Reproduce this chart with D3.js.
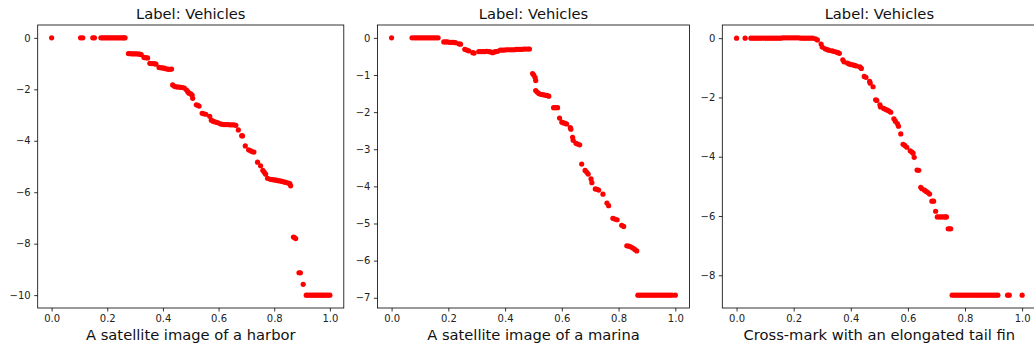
<!DOCTYPE html>
<html>
<head>
<meta charset="utf-8">
<script src="https://cdn.jsdelivr.net/npm/d3@7"></script>
<style>
  body { margin: 0; background: #fff; }
  svg { display: block; font-family: "DejaVu Sans", sans-serif; }
</style>
</head>
<body>
<svg id="chart" width="1034" height="350"></svg>
<script>
// values, [x, y] per dot
const harborPoints = [
  [0, 0], [0.104, 0], [0.112, 0], [0.148, 0], [0.154, 0],
  [0.177, 0], [0.183, 0], [0.189, 0], [0.195, 0], [0.201, 0], [0.207, 0], [0.213, 0], [0.219, 0],
  [0.225, 0], [0.231, 0], [0.237, 0], [0.243, 0], [0.249, 0], [0.255, 0], [0.260, 0], [0.264, 0],
  [0.276, -0.61], [0.282, -0.61], [0.288, -0.62], [0.294, -0.62], [0.300, -0.62], [0.306, -0.62],
  [0.312, -0.63], [0.317, -0.63], [0.322, -0.65],
  [0.332, -0.76], [0.338, -0.77], [0.345, -0.78],
  [0.353, -0.99], [0.359, -1.0], [0.365, -1.0], [0.371, -1.01], [0.375, -1.02],
  [0.386, -1.15], [0.392, -1.16], [0.398, -1.17], [0.405, -1.18],
  [0.410, -1.20], [0.416, -1.21], [0.421, -1.22], [0.426, -1.22], [0.431, -1.21],
  [0.435, -1.83], [0.441, -1.88], [0.447, -1.90], [0.452, -1.91], [0.458, -1.91], [0.464, -1.92],
  [0.470, -1.93], [0.477, -1.95],
  [0.485, -2.03], [0.490, -2.10], [0.494, -2.15], [0.500, -2.18], [0.505, -2.22], [0.507, -2.35],
  [0.520, -2.60], [0.525, -2.62], [0.530, -2.65],
  [0.541, -2.93], [0.547, -2.95], [0.554, -2.97],
  [0.568, -3.05], [0.574, -3.20], [0.580, -3.24], [0.586, -3.26], [0.592, -3.28], [0.598, -3.30],
  [0.606, -3.34], [0.613, -3.36], [0.620, -3.37], [0.627, -3.37], [0.634, -3.37], [0.641, -3.38],
  [0.648, -3.38], [0.655, -3.38], [0.662, -3.40],
  [0.671, -3.58], [0.683, -3.80], [0.686, -3.81],
  [0.696, -4.20],
  [0.708, -4.35], [0.714, -4.38], [0.720, -4.42], [0.727, -4.44],
  [0.740, -4.83], [0.751, -4.97],
  [0.759, -5.15], [0.764, -5.22], [0.769, -5.30], [0.776, -5.46],
  [0.786, -5.50], [0.793, -5.51], [0.800, -5.52], [0.807, -5.53], [0.814, -5.55], [0.821, -5.56],
  [0.828, -5.58], [0.835, -5.60], [0.842, -5.62],
  [0.851, -5.65], [0.856, -5.66], [0.859, -5.75],
  [0.869, -7.74], [0.873, -7.76], [0.877, -7.80],
  [0.889, -9.13], [0.894, -9.13],
  [0.904, -9.58],
  [0.915, -10], [0.922, -10], [0.929, -10], [0.936, -10], [0.943, -10], [0.950, -10], [0.957, -10],
  [0.964, -10], [0.971, -10], [0.978, -10], [0.985, -10], [0.992, -10], [1.0, -10]
];

const marinaPoints = [
  [0, 0], [0.072, 0], [0.080, 0], [0.087, 0], [0.094, 0], [0.101, 0], [0.108, 0], [0.115, 0],
  [0.122, 0], [0.129, 0], [0.136, 0], [0.143, 0], [0.150, 0], [0.157, 0], [0.164, 0],
  [0.184, -0.11], [0.190, -0.11], [0.197, -0.11], [0.204, -0.12], [0.211, -0.12], [0.218, -0.12], [0.225, -0.13],
  [0.237, -0.16], [0.243, -0.17],
  [0.258, -0.31], [0.265, -0.33], [0.272, -0.35],
  [0.286, -0.40], [0.291, -0.41],
  [0.307, -0.37], [0.314, -0.37], [0.321, -0.37], [0.328, -0.37], [0.335, -0.36], [0.342, -0.37],
  [0.349, -0.38], [0.356, -0.40], [0.362, -0.38], [0.368, -0.37], [0.374, -0.36],
  [0.383, -0.33], [0.390, -0.33], [0.397, -0.33], [0.404, -0.32], [0.411, -0.32], [0.418, -0.32],
  [0.425, -0.32], [0.432, -0.32], [0.439, -0.31], [0.446, -0.31], [0.453, -0.31], [0.460, -0.31],
  [0.467, -0.30], [0.474, -0.30], [0.481, -0.30], [0.486, -0.30],
  [0.497, -0.96], [0.501, -1.00], [0.506, -1.07], [0.508, -1.15],
  [0.508, -1.42], [0.513, -1.46],
  [0.519, -1.50], [0.526, -1.52], [0.533, -1.53], [0.540, -1.54], [0.547, -1.55], [0.554, -1.57],
  [0.571, -1.88], [0.578, -1.88], [0.585, -1.88],
  [0.592, -2.16],
  [0.600, -2.27], [0.606, -2.29], [0.612, -2.30], [0.617, -2.32],
  [0.630, -2.42], [0.632, -2.46],
  [0.638, -2.68], [0.640, -2.76],
  [0.650, -2.84], [0.656, -2.86], [0.663, -2.88],
  [0.670, -3.40],
  [0.682, -3.57], [0.688, -3.62], [0.693, -3.67],
  [0.703, -3.80], [0.706, -3.90],
  [0.718, -4.07], [0.724, -4.08], [0.730, -4.10],
  [0.745, -4.21],
  [0.759, -4.45], [0.765, -4.52],
  [0.780, -4.86], [0.787, -4.88], [0.795, -4.90],
  [0.811, -5.05], [0.818, -5.08],
  [0.829, -5.60], [0.836, -5.61], [0.843, -5.63], [0.850, -5.66], [0.857, -5.70], [0.864, -5.74],
  [0.868, -6.93], [0.876, -6.93], [0.884, -6.93], [0.892, -6.93], [0.900, -6.93], [0.908, -6.93],
  [0.916, -6.93], [0.924, -6.93], [0.932, -6.93], [0.940, -6.93], [0.948, -6.93], [0.956, -6.93],
  [0.964, -6.93], [0.972, -6.93], [0.980, -6.93], [0.988, -6.93], [1.0, -6.93]
];

const finPoints = [
  [0, 0], [0.030, 0],
  [0.050, 0], [0.058, 0], [0.066, 0], [0.074, 0], [0.082, 0], [0.090, 0], [0.098, 0], [0.106, 0],
  [0.114, 0], [0.122, 0], [0.130, 0], [0.138, 0], [0.146, 0], [0.154, 0], [0.162, 0.01], [0.170, 0.01],
  [0.178, 0.01], [0.186, 0.01], [0.194, 0.01], [0.202, 0.01], [0.210, 0.01], [0.218, 0.01], [0.226, 0],
  [0.234, 0], [0.242, 0], [0.250, 0], [0.258, 0], [0.266, 0],
  [0.276, -0.02], [0.283, -0.06],
  [0.296, -0.20], [0.300, -0.30],
  [0.310, -0.36], [0.318, -0.39], [0.324, -0.41],
  [0.335, -0.43], [0.342, -0.45], [0.349, -0.47], [0.355, -0.49], [0.360, -0.51],
  [0.372, -0.73], [0.376, -0.80],
  [0.388, -0.84], [0.394, -0.87], [0.400, -0.89], [0.407, -0.90], [0.414, -0.92], [0.420, -0.94],
  [0.432, -0.97], [0.437, -1.02],
  [0.447, -1.29], [0.453, -1.32],
  [0.466, -1.46], [0.468, -1.52],
  [0.478, -1.64],
  [0.487, -2.08], [0.491, -2.10],
  [0.502, -2.25], [0.504, -2.32],
  [0.515, -2.37], [0.521, -2.40], [0.528, -2.43], [0.534, -2.46], [0.540, -2.50],
  [0.551, -2.72], [0.556, -2.80],
  [0.563, -2.88], [0.567, -2.97],
  [0.575, -3.23],
  [0.583, -3.58], [0.589, -3.62], [0.596, -3.68],
  [0.608, -3.80], [0.614, -3.84], [0.618, -3.88],
  [0.622, -4.02],
  [0.632, -4.45], [0.638, -4.46],
  [0.645, -5.03], [0.649, -5.08],
  [0.658, -5.13], [0.664, -5.17], [0.670, -5.21], [0.676, -5.26],
  [0.684, -5.50], [0.690, -5.50],
  [0.697, -5.84],
  [0.703, -6.03], [0.710, -6.03], [0.717, -6.03], [0.724, -6.03], [0.731, -6.03], [0.735, -6.03],
  [0.741, -6.43], [0.746, -6.43], [0.750, -6.43],
  [0.755, -8.67], [0.763, -8.67], [0.771, -8.67], [0.779, -8.67], [0.787, -8.67], [0.795, -8.67],
  [0.803, -8.67], [0.811, -8.67], [0.819, -8.67], [0.827, -8.67], [0.835, -8.67], [0.843, -8.67],
  [0.851, -8.67], [0.859, -8.67], [0.867, -8.67], [0.875, -8.67], [0.883, -8.67], [0.891, -8.67],
  [0.899, -8.67], [0.907, -8.67], [0.915, -8.67], [0.949, -8.67], [0.955, -8.67], [1.0, -8.67]
];

const titles = ['Label: Vehicles', 'Label: Vehicles', 'Label: Vehicles'];
const xLabels = ['A satellite image of a harbor', 'A satellite image of a marina', 'Cross-mark with an elongated tail fin'];
const xTicks = [0, 0.2, 0.4, 0.6, 0.8, 1.0];
const yTicksHarbor = [0, -2, -4, -6, -8, -10];
const yTicksMarina = [0, -1, -2, -3, -4, -5, -6, -7];
const yTicksFin = [0, -2, -4, -6, -8];

// layout
const plotTop = 25, plotBottom = 308;
const panels = [
  { left: 37.7, right: 343.8, points: harborPoints, yTicks: yTicksHarbor },
  { left: 377.4, right: 689.5, points: marinaPoints, yTicks: yTicksMarina },
  { left: 722.3, right: 1036.4, points: finPoints, yTicks: yTicksFin }
];

const svg = d3.select('#chart');

panels.forEach((p, i) => {
  const ext = d3.extent(p.points, d => d[1]);
  const pad = (ext[1] - ext[0]) * 0.05;

  const x = d3.scaleLinear().domain([-0.05, 1.05]).range([p.left, p.right]);
  const y = d3.scaleLinear().domain([ext[0] - pad, ext[1] + pad]).range([plotBottom, plotTop]);

  const g = svg.append('g');

  g.append('g')
    .selectAll('circle')
    .data(p.points)
    .join('circle')
    .attr('cx', d => x(d[0]))
    .attr('cy', d => y(d[1]))
    .attr('r', 2.6)
    .attr('fill', '#ff0000');

  // frame
  g.append('rect')
    .attr('x', p.left)
    .attr('y', plotTop)
    .attr('width', p.right - p.left)
    .attr('height', plotBottom - plotTop)
    .attr('fill', 'none')
    .attr('stroke', '#000')
    .attr('stroke-width', 0.8);

  g.append('g')
    .attr('transform', 'translate(0,' + plotBottom + ')')
    .call(d3.axisBottom(x).tickValues(xTicks).tickFormat(d3.format('.1f')).tickSize(3.5).tickPadding(3.5))
    .call(a => a.select('.domain').remove())
    .call(a => a.selectAll('.tick line').attr('stroke', '#000').attr('stroke-width', 0.8))
    .call(a => a.selectAll('.tick text').attr('fill', '#222').style('font-size', '10px')
      .style('font-family', '"DejaVu Sans", sans-serif'));

  g.append('g')
    .attr('transform', 'translate(' + p.left + ',0)')
    .call(d3.axisLeft(y).tickValues(p.yTicks).tickFormat(d3.format('d')).tickSize(3.5).tickPadding(3.5))
    .call(a => a.select('.domain').remove())
    .call(a => a.selectAll('.tick line').attr('stroke', '#000').attr('stroke-width', 0.8))
    .call(a => a.selectAll('.tick text').attr('fill', '#222').style('font-size', '10px')
      .style('font-family', '"DejaVu Sans", sans-serif'));

  g.append('text')
    .attr('x', (p.left + p.right) / 2)
    .attr('y', 19)
    .attr('text-anchor', 'middle')
    .style('font-size', '14.7px')
    .attr('fill', '#111')
    .text(titles[i]);

  g.append('text')
    .attr('x', (p.left + p.right) / 2)
    .attr('y', 340)
    .attr('text-anchor', 'middle')
    .style('font-size', '14.7px')
    .attr('fill', '#111')
    .text(xLabels[i]);
});
</script>
</body>
</html>
